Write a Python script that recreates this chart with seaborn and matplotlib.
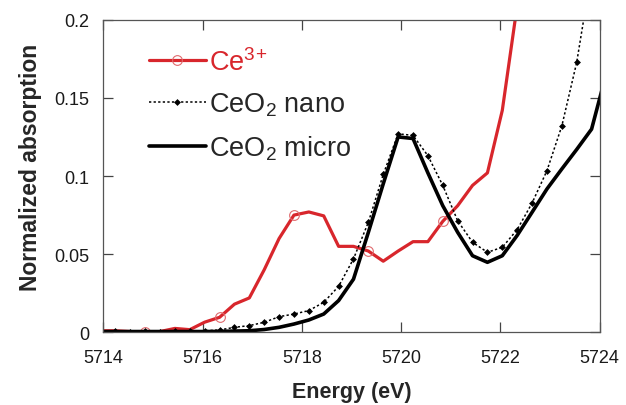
import numpy as np
import pandas as pd
import matplotlib
matplotlib.use("Agg")
import matplotlib.pyplot as plt
import seaborn as sns

# Energy grid (eV), one sample every 0.3 eV
energy = [5713.94, 5714.24, 5714.54, 5714.84, 5715.14, 5715.44, 5715.74, 5716.04,
          5716.34, 5716.64, 5716.94, 5717.24, 5717.54, 5717.84, 5718.14, 5718.44,
          5718.74, 5719.04, 5719.34, 5719.64, 5719.94, 5720.24, 5720.54, 5720.84,
          5721.14, 5721.44, 5721.74, 5722.04, 5722.34, 5722.64, 5722.94, 5723.24,
          5723.54, 5723.84, 5724.14]

ce3 = [0.001, 0.001, 0.0005, 0.0, 0.0005, 0.0025, 0.0017, 0.0065,
       0.0096, 0.018, 0.022, 0.040, 0.060, 0.075, 0.077, 0.0745,
       0.055, 0.055, 0.052, 0.0455, 0.052, 0.058, 0.058, 0.071,
       0.081, 0.094, 0.102, 0.142, 0.209, 0.28]

ceo2_nano = [0.0006, 0.0006, 0.0004, 0.0006, 0.0004, 0.0006, 0.0006, 0.001,
             0.0015, 0.0032, 0.0043, 0.0064, 0.010, 0.0117, 0.0139, 0.0192,
             0.0294, 0.047, 0.0704, 0.101, 0.127, 0.126, 0.113, 0.094,
             0.0714, 0.0576, 0.0512, 0.0544, 0.0657, 0.0827, 0.1034, 0.132,
             0.1727, 0.231]

ceo2_micro = [0.0005, 0.0005, 0.0005, 0.0005, 0.0005, 0.0005, 0.0005, 0.0005,
              0.0006, 0.0008, 0.001, 0.0018, 0.0032, 0.0053, 0.0079, 0.0117,
              0.0203, 0.034, 0.064, 0.095, 0.125, 0.124, 0.102, 0.081,
              0.064, 0.049, 0.0448, 0.049, 0.062, 0.0768, 0.0917, 0.1045,
              0.117, 0.130, 0.166]

x_ticks = [5714, 5716, 5718, 5720, 5722, 5724]
y_ticks = [0, 0.05, 0.1, 0.15, 0.2]
y_tick_labels = ["0", "0.05", "0.1", "0.15", "0.2"]

red = "#d8262c"

sns.set_style("ticks")
plt.rcParams["font.family"] = ["Liberation Sans", "DejaVu Sans"]
plt.rcParams["mathtext.fontset"] = "custom"
plt.rcParams["mathtext.rm"] = "Liberation Sans"
plt.rcParams["mathtext.it"] = "Liberation Sans"

df_ce3 = pd.DataFrame({"energy": energy[:len(ce3)], "mu": ce3})
df_nano = pd.DataFrame({"energy": energy[:len(ceo2_nano)], "mu": ceo2_nano})
df_micro = pd.DataFrame({"energy": energy[:len(ceo2_micro)], "mu": ceo2_micro})

fig = plt.figure(figsize=(6.26, 4.06), dpi=100)
ax = fig.add_axes([0.1653, 0.179, 0.7924, 0.770])

sns.lineplot(data=df_ce3, x="energy", y="mu", ax=ax, color=red, lw=2.3,
             marker="o", markersize=7, markerfacecolor="none",
             markeredgecolor="#e06a6e", markeredgewidth=0.8,
             markevery=(3, 5), label=r"Ce$^{3\!+}$")
sns.lineplot(data=df_nano, x="energy", y="mu", ax=ax, color="black", lw=1.1,
             linestyle=(0, (1.5, 1.5)), marker="D", markersize=3.5,
             markeredgewidth=0, label=r"CeO$_2$ nano")
sns.lineplot(data=df_micro, x="energy", y="mu", ax=ax, color="black", lw=2.6,
             label=r"CeO$_2$ micro")

ax.set_xlim(5714, 5724)
ax.set_ylim(0, 0.2)
ax.set_xticks(x_ticks)
ax.set_yticks(y_ticks)
ax.set_yticklabels(y_tick_labels)

ax.tick_params(direction="in", length=7, width=0.9, color="#444444",
               top=True, right=True, labelsize=13, labelcolor="#1a1a1a")
ax.tick_params(axis="x", pad=12)
ax.tick_params(axis="y", pad=10)
for sp in ax.spines.values():
    sp.set_color("#555555")
    sp.set_linewidth(0.9)

ax.set_xlabel("Energy (eV)", fontsize=15.5, fontweight="bold", labelpad=11)
ax.set_ylabel("Normalized absorption", fontsize=16.5, fontweight="bold")
ax.yaxis.set_label_coords(-0.124, 0.532)

leg = ax.legend(loc="upper left", bbox_to_anchor=(0.07, 0.945), frameon=False,
                fontsize=19.5, handlelength=2.1, handletextpad=0.12,
                labelspacing=0.56, borderaxespad=0)
leg.get_texts()[0].set_color(red)

fig.savefig("out.png", dpi=100)
